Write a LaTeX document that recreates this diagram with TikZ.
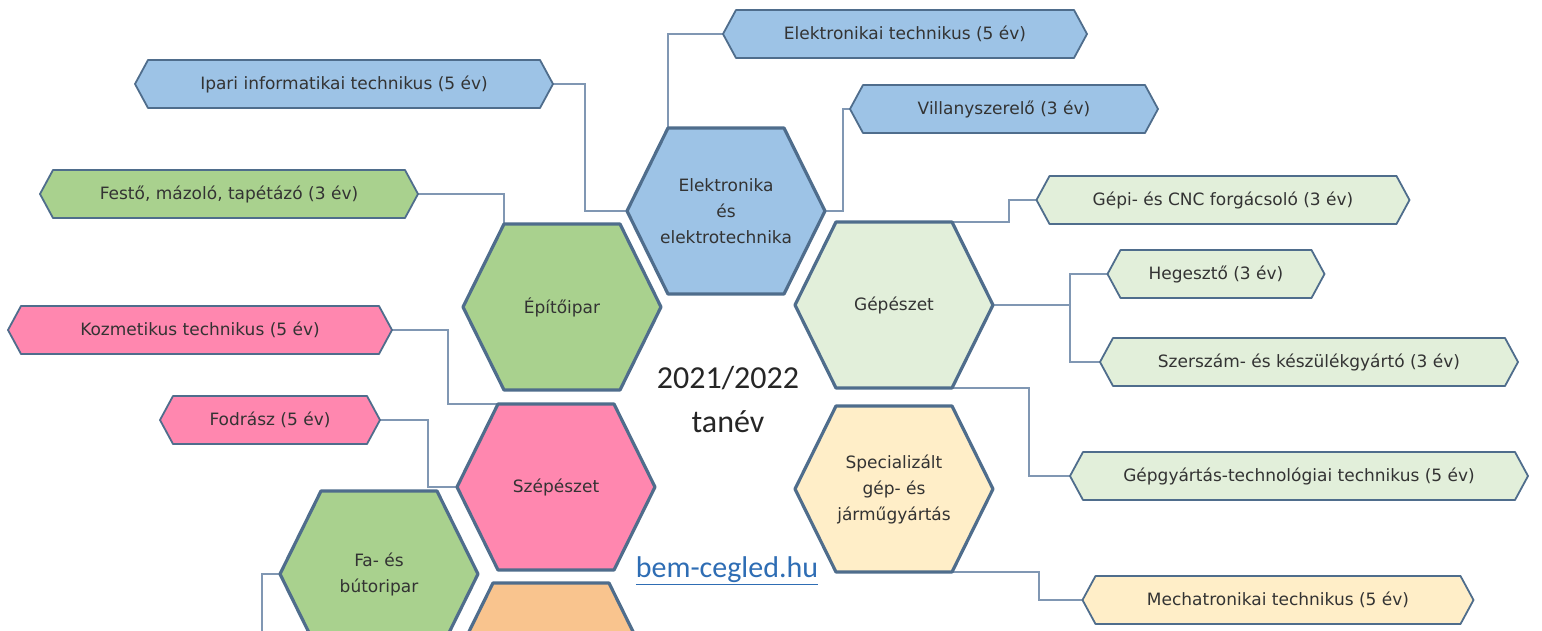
\documentclass[tikz,border=0pt]{standalone}
\usepackage{fontspec}
\setmainfont{DejaVu Sans}
\newfontfamily\yearfont{Carlito}
\usetikzlibrary{calc,backgrounds}

\definecolor{hexline}{HTML}{4F6D8C}
\definecolor{conn}{HTML}{8097B3}
\definecolor{linkblue}{HTML}{2E6DB4}
\definecolor{kek}{HTML}{9DC3E6}
\definecolor{zold}{HTML}{A9D18E}
\definecolor{halvanyzold}{HTML}{E2EFDA}
\definecolor{rozsa}{HTML}{FF87AF}
\definecolor{krem}{HTML}{FFEEC8}
\definecolor{narancs}{HTML}{F9C48E}

% outline of a pointed box round a node: node, fill, indent
\newcommand{\hexoutline}[3]{%
  \draw[fill=#2] (#1.west) -- ($(#1.north west)+(#3,0)$) -- ($(#1.north east)-(#3,0)$)
    -- (#1.east) -- ($(#1.south east)-(#3,0)$) -- ($(#1.south west)+(#3,0)$) -- cycle;}

\tikzset{
  field/.style={minimum width=198pt,minimum height=166pt,inner sep=0pt,outer sep=0pt,
    align=center,text=black!80,font=\fontsize{17}{26}\selectfont},
  course/.style={minimum height=48pt,inner sep=0pt,outer sep=0pt,
    text=black!80,font=\fontsize{17}{20}\selectfont},
  link/.style={draw=conn,line width=1.6pt},
}

\begin{document}
\begin{tikzpicture}[x=1pt,y=-1pt]
\useasboundingbox (0,0) rectangle (1542,631);

% fields
\node[field] (elektro) at (726,211) {Elektronika\\és\\elektrotechnika};
\node[field] (epito) at (562,307) {Építőipar};
\node[field] (gepesz) at (894,305) {Gépészet};
\node[field] (szep) at (556,487) {Szépészet};
\node[field] (spec) at (894,489) {Specializált\\gép- és\\járműgyártás};
\node[field] (fa) at (379,574) {Fa- és\\bútoripar};
\node[field] (also) at (551,666) {};

% courses
\foreach \n/\x/\y/\w/\t in {
  elteh/905/34/364/{Elektronikai technikus (5 év)},
  ipari/344/84/418/{Ipari informatikai technikus (5 év)},
  villany/1004/109/308/{Villanyszerelő (3 év)},
  festo/229/194/378/{Festő, mázoló, tapétázó (3 év)},
  gepi/1223/200/373/{Gépi- és CNC forgácsoló (3 év)},
  heg/1216/274/217/{Hegesztő (3 év)},
  szersz/1309/362/418/{Szerszám- és készülékgyártó (3 év)},
  kozm/200/330/384/{Kozmetikus technikus (5 év)},
  fodr/270/420/220/{Fodrász (5 év)},
  gepgy/1299/476/458/{Gépgyártás-technológiai technikus (5 év)},
  mecha/1278/600/391/{Mechatronikai technikus (5 év)}}
  \node[course,minimum width=\w pt] (\n) at (\x,\y) {\t};

\node[font=\yearfont\fontsize{32}{44}\selectfont,align=center,text=black!85] (tanev) at (728,400) {2021/2022\\tanév};
\node[font=\yearfont\fontsize{30}{36}\selectfont,text=linkblue] (web) at (727,571) {\underline{bem-cegled.hu}};

\coordinate (fa-le) at (262,660);

\begin{scope}[on background layer]
% connectors
\draw[link] ($(elektro.north west)+(41,0)$) |- (elteh.west);
\draw[link] (elektro.east) -- ++(18,0) |- (villany.west);
\draw[link] (ipari.east) -- ++(32,0) |- (elektro.west);
\draw[link] (festo.east) -| ($(epito.north west)+(41,0)$);
\draw[link] (kozm.east) -- ++(56,0) |- ($(szep.north west)+(41,0)$);
\draw[link] (fodr.east) -- ++(48,0) |- (szep.west);
\draw[link] ($(gepesz.north east)-(41,0)$) -- ++(57,0) |- (gepi.west);
\draw[link] (gepesz.east) -- ++(77,0) coordinate (elag) |- (heg.west);
\draw[link] (elag) |- (szersz.west);
\draw[link] ($(gepesz.south east)-(41,0)$) -- ++(77,0) |- (gepgy.west);
\draw[link] ($(spec.south east)-(41,0)$) -- ++(87,0) |- (mecha.west);
\draw[link] (fa.west) -| (fa-le);

\begin{scope}[draw=hexline,line width=3.2pt,line join=round]
\foreach \n/\c in {elektro/kek,epito/zold,gepesz/halvanyzold,szep/rozsa,
  spec/krem,fa/zold,also/narancs}
  \hexoutline{\n}{\c}{41};
\end{scope}
\begin{scope}[draw=hexline,line width=1.8pt,line join=round]
\foreach \n/\c in {elteh/kek,ipari/kek,villany/kek,festo/zold,gepi/halvanyzold,
  heg/halvanyzold,szersz/halvanyzold,kozm/rozsa,fodr/rozsa,gepgy/halvanyzold,mecha/krem}
  \hexoutline{\n}{\c}{13};
\end{scope}
\end{scope}
\end{tikzpicture}
\end{document}
